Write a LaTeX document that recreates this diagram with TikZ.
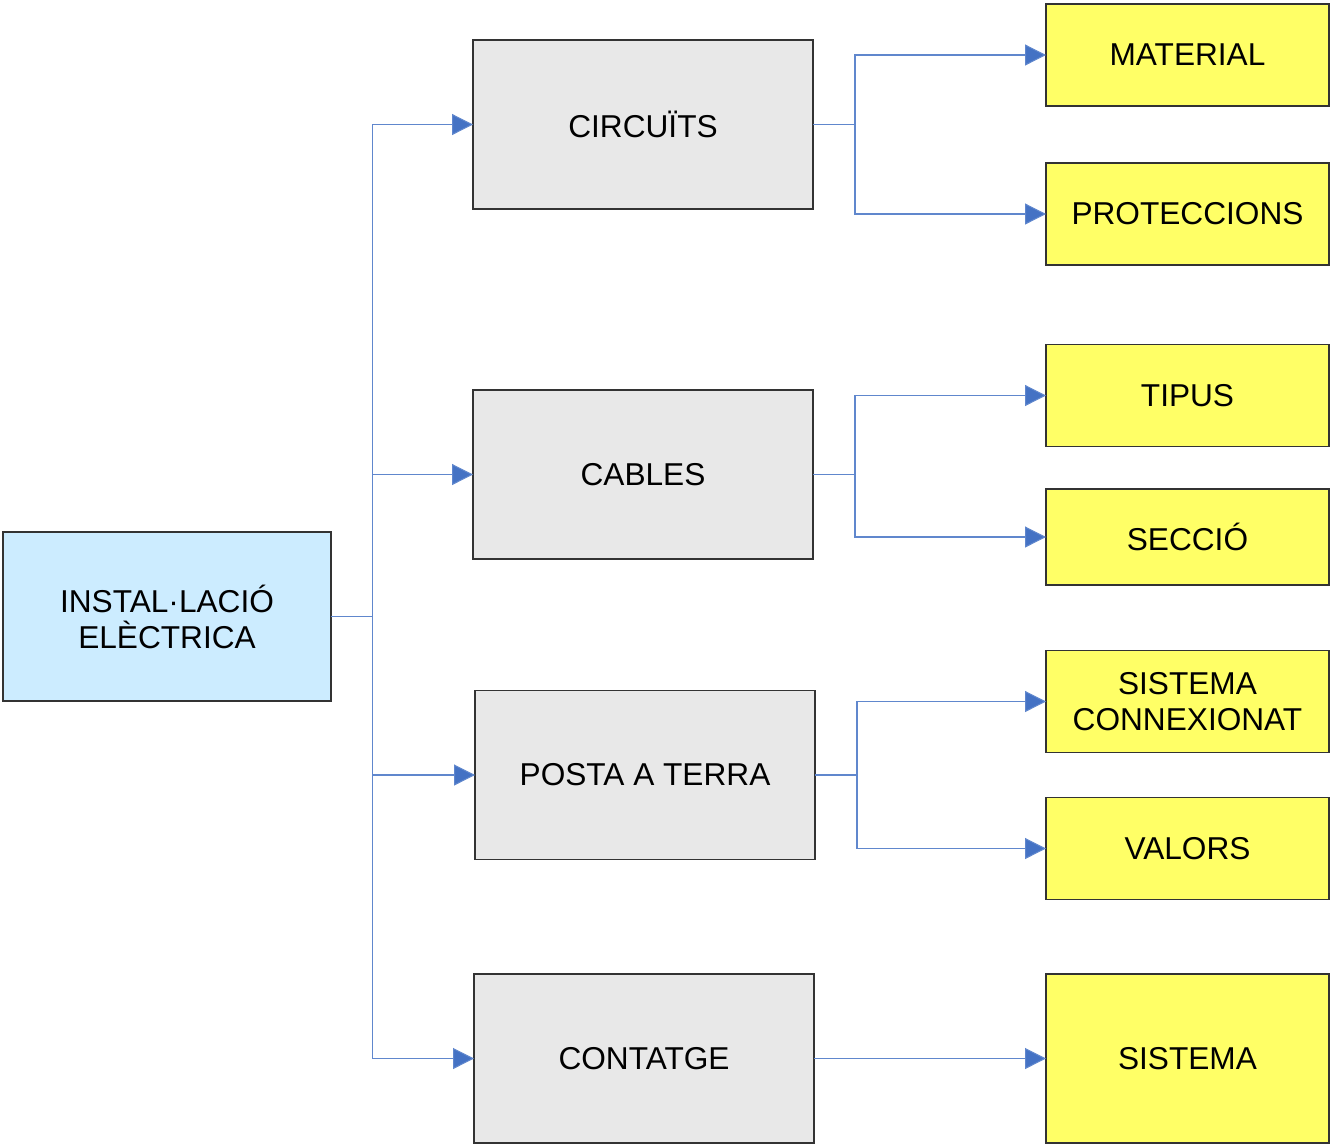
\documentclass[tikz,border=0pt]{standalone}
\usepackage{fontspec}
\setmainfont{Liberation Sans}
\usetikzlibrary{arrows.meta}

\definecolor{rootblue}{HTML}{CCECFF}
\definecolor{boxgray}{HTML}{E8E8E8}
\definecolor{boxyellow}{HTML}{FFFF66}
\definecolor{linkblue}{HTML}{4472C4}

\tikzstyle{base} = [rectangle, draw=black!80, line width=0.7pt, inner sep=0pt, outer sep=0pt, align=center, font=\fontsize{18}{20.5}\selectfont]
\tikzstyle{root} = [base, fill=rootblue, minimum width=6.56cm, minimum height=3.38cm]
\tikzstyle{topic} = [base, fill=boxgray, minimum width=6.8cm, minimum height=3.38cm]
\tikzstyle{leaf} = [base, fill=boxyellow, minimum width=5.66cm, minimum height=2.04cm]
\tikzstyle{link} = [draw=linkblue!85, line width=0.6pt, -{Triangle[length=0.42cm, width=0.42cm, fill=linkblue]}]

\begin{document}
\begin{tikzpicture}[x=0.02cm, y=-0.02cm]
\useasboundingbox (0,0) rectangle (1332,1144);

\node[root] (Inst) at (167,616.5) {INSTAL·LACIÓ\\ELÈCTRICA};

\node[topic] (Circ) at (643,124.5) {CIRCUÏTS};
\node[topic] (Cab) at (643,474.5) {CABLES};
\node[topic] (Posta) at (645,775) {POSTA A TERRA};
\node[topic] (Cont) at (644,1058.5) {CONTATGE};

\node[leaf] (Mat) at (1187.5,55) {MATERIAL};
\node[leaf] (Prot) at (1187.5,214) {PROTECCIONS};
\node[leaf] (Tip) at (1187.5,395.5) {TIPUS};
\node[leaf, minimum height=1.92cm] (Secc) at (1187.5,537) {SECCIÓ};
\node[leaf] (SisCon) at (1187.5,701.5) {SISTEMA\\CONNEXIONAT};
\node[leaf] (Val) at (1187.5,848.5) {VALORS};
\node[leaf, minimum height=3.38cm] (Sis) at (1187.5,1058.5) {SISTEMA};

% from the installation to each topic
\draw[link] (Inst.east) -- ++(42,0) |- (Circ.west);
\draw[link] (Inst.east) -- ++(42,0) |- (Cab.west);
\draw[link] (Inst.east) -- ++(42,0) |- (Posta.west);
\draw[link] (Inst.east) -- ++(42,0) |- (Cont.west);

% from each topic to its items
\draw[link] (Circ.east) -- ++(42,0) |- (Mat.west);
\draw[link] (Circ.east) -- ++(42,0) |- (Prot.west);
\draw[link] (Cab.east) -- ++(42,0) |- (Tip.west);
\draw[link] (Cab.east) -- ++(42,0) |- (Secc.west);
\draw[link] (Posta.east) -- ++(42,0) |- (SisCon.west);
\draw[link] (Posta.east) -- ++(42,0) |- (Val.west);
\draw[link] (Cont.east) -- (Sis.west);

\end{tikzpicture}
\end{document}
